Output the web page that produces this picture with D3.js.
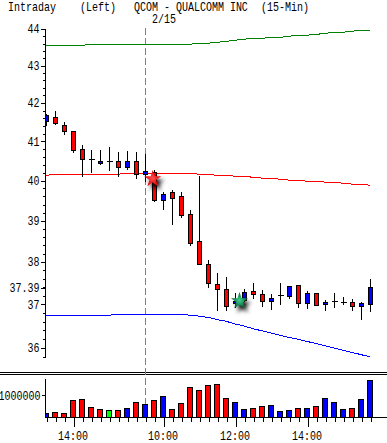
<!DOCTYPE html>
<html>
<head>
<meta charset="utf-8">
<script src="https://cdn.jsdelivr.net/npm/d3@7"></script>
<style>
  html, body { margin: 0; padding: 0; background: #fff; }
  svg { display: block; }
  text { font-family: "Liberation Mono", monospace; font-size: 12px; fill: #000; }
</style>
</head>
<body>
<svg class="chart"></svg>
<script>
var opens = [41.50, 41.63, 41.42, 41.24, 40.80, 40.52, 40.44, 40.48, 40.49, 40.32, 40.49, 40.14,
  40.19, 39.51, 39.69, 39.59, 39.15, 38.50, 37.94, 37.47, 37.36, 37.03, 37.10, 37.31,
  37.24, 37.08, 37.21, 37.19, 37.45, 37.03, 37.26, 37.01, 37.08, 37.05, 37.05, 36.96, 37.01];
var closes = [41.66, 41.45, 41.24, 40.75, 40.54, 40.52, 40.49, 40.48, 40.32, 40.49, 40.14, 40.22,
  39.51, 39.66, 39.56, 39.13, 38.45, 37.94, 37.50, 37.36, 36.96, 37.08, 37.29, 37.24,
  37.08, 37.14, 37.21, 37.43, 37.03, 37.26, 36.98, 37.05, 37.08, 37.05, 36.96, 37.03, 37.40];
var highs = [41.71, 41.79, 41.50, 41.26, 40.90, 40.77, 40.77, 40.85, 40.72, 40.75, 40.72, 40.67,
  40.27, 39.71, 39.76, 39.71, 39.26, 40.11, 38.06, 37.75, 37.64, 37.26, 37.36, 37.50,
  37.33, 37.24, 37.50, 37.43, 37.45, 37.31, 37.26, 37.10, 37.26, 37.17, 37.12, 37.05, 37.60];
var lows = [41.39, 41.41, 41.16, 40.70, 40.09, 40.19, 40.39, 40.24, 40.09, 40.27, 40.04, 39.96,
  39.46, 39.26, 38.89, 39.08, 38.38, 37.92, 37.38, 36.85, 36.85, 36.92, 37.05, 37.12,
  36.94, 36.87, 36.98, 37.12, 36.92, 36.89, 36.96, 36.85, 36.92, 36.98, 36.85, 36.64, 36.82];

var upperBand = [43.55, 43.55, 43.55, 43.55, 43.55, 43.58, 43.58, 43.58, 43.58, 43.58, 43.58, 43.58,
  43.58, 43.58, 43.58, 43.58, 43.58, 43.61, 43.61, 43.63, 43.66, 43.69, 43.72, 43.74,
  43.74, 43.77, 43.77, 43.80, 43.83, 43.83, 43.85, 43.88, 43.91, 43.91, 43.94, 43.96, 43.96];
var midBand = [40.13, 40.16, 40.16, 40.16, 40.16, 40.16, 40.16, 40.16, 40.16, 40.18, 40.18, 40.18,
  40.18, 40.18, 40.18, 40.18, 40.18, 40.16, 40.16, 40.13, 40.13, 40.11, 40.11, 40.08,
  40.06, 40.06, 40.03, 40.01, 40.01, 39.98, 39.98, 39.96, 39.96, 39.93, 39.91, 39.91, 39.88];
var lowerBand = [36.75, 36.75, 36.75, 36.75, 36.75, 36.75, 36.75, 36.75, 36.77, 36.77, 36.77, 36.77,
  36.77, 36.77, 36.77, 36.77, 36.75, 36.73, 36.70, 36.65, 36.61, 36.55, 36.50, 36.44,
  36.39, 36.34, 36.29, 36.24, 36.20, 36.15, 36.10, 36.05, 36.00, 35.95, 35.90, 35.85, 35.80];

var volumes = [180000, 230000, 180000, 770000, 820000, 450000, 360000, 320000, 320000, 410000, 680000, 590000,
  770000, 950000, 360000, 640000, 1360000, 1230000, 1470000, 1520000, 860000, 680000, 360000, 410000,
  500000, 550000, 270000, 320000, 410000, 410000, 500000, 860000, 680000, 360000, 410000, 820000, 1680000];
var volumeColors = ["b", "r", "r", "r", "r", "r", "r", "g", "r", "b", "r", "b",
  "r", "b", "r", "r", "r", "r", "r", "r", "r", "b", "b", "r",
  "r", "b", "b", "b", "r", "b", "r", "b", "b", "b", "r", "b", "b"];

var priceLabels = [36, 37, 37.39, 38, 39, 40, 41, 42, 43, 44];
var volumeLabels = [1000000];
var timeIndex = [3, 13, 21, 29];
var timeLabels = ["14:00", "10:00", "12:00", "14:00"];
var dateIndex = 11;
var dateLabel = "2/15";
var markerIndex = [11.85, 21.5];
var markerPrice = [40.04, 37.08];
var titleParts = ["Intraday", "(Left)", "QCOM - QUALCOMM INC", "(15-Min)"];

var width = 387, height = 443;
var colors = { r: "#ff0000", b: "#0000ff", g: "#00ff00" };

var svg = d3.select(".chart").attr("width", width).attr("height", height);
var defs = svg.append("defs");

defs.append("clipPath").attr("id", "plotClip").append("rect")
  .attr("x", 45).attr("y", 0).attr("width", width - 45).attr("height", height);

function addGradient(id, inner, outer) {
  var g = defs.append("radialGradient").attr("id", id);
  g.append("stop").attr("offset", "0%").attr("stop-color", inner);
  g.append("stop").attr("offset", "100%").attr("stop-color", outer);
}
addGradient("markRed", "#ff5050", "#d80000");
addGradient("markGreen", "#40d090", "#005c30");

var glow = defs.append("filter").attr("id", "markShadow")
  .attr("x", "-100%").attr("y", "-100%").attr("width", "350%").attr("height", "350%");
glow.append("feGaussianBlur").attr("in", "SourceGraphic").attr("stdDeviation", 0.7).attr("result", "soft");
glow.append("feDropShadow").attr("in", "soft").attr("dx", 3).attr("dy", 4).attr("stdDeviation", 2)
  .attr("flood-color", "#000").attr("flood-opacity", 1);

var indexes = d3.range(opens.length);
var x = d3.scaleLinear().domain([0, 36]).range([46, 370]);
var y = d3.scaleLog().domain([36, 44]).range([348, 29]);
var yVol = d3.scaleLinear().domain([0, 1000000]).range([417, 395.3]);

function xc(i) {
  return Math.round(x(i)) + 0.5;
}

// squeeze the mono font to the 6px cell of the original, about its anchor
function fitText(sel) {
  sel.style("transform-box", "fill-box")
    .style("transform", "scaleX(0.8333)")
    .style("transform-origin", function() {
      var a = getComputedStyle(this).textAnchor;
      return (a === "end" ? "right" : a === "middle" ? "center" : "left") + " center";
    });
}

// title
var titleX = [8, 80, 134, 261];
svg.append("g").selectAll("text").data(titleParts).enter().append("text")
  .attr("x", function(d, i) { return titleX[i]; })
  .attr("y", 11)
  .text(function(d) { return d; })
  .call(fitText);

svg.append("text")
  .attr("x", 152).attr("y", 23)
  .text(dateLabel)
  .call(fitText);

// panel separator
svg.selectAll(".sep").data([372.5, 374.5]).enter().append("line")
  .attr("class", "sep")
  .attr("x1", 0).attr("x2", width)
  .attr("y1", function(d) { return d; }).attr("y2", function(d) { return d; })
  .attr("stroke", "#000").attr("shape-rendering", "crispEdges");

// day marker
svg.append("line")
  .attr("x1", xc(dateIndex)).attr("x2", xc(dateIndex))
  .attr("y1", 28).attr("y2", 417)
  .attr("stroke", "#808080")
  .attr("stroke-dasharray", "7,3")
  .attr("shape-rendering", "crispEdges");

// bands
var bandLine = d3.line()
  .x(function(d, i) { return x(i); })
  .y(function(d) { return y(d); });

[[upperBand, "#008000"], [midBand, "#ff0000"], [lowerBand, "#0000ff"]].forEach(function(b) {
  svg.append("path")
    .attr("d", bandLine(b[0]))
    .attr("fill", "none")
    .attr("stroke", b[1])
    .attr("shape-rendering", "crispEdges");
});

// candles
var plot = svg.append("g").attr("clip-path", "url(#plotClip)");

plot.selectAll(".wick").data(indexes).enter().append("line")
  .attr("class", "wick")
  .attr("x1", xc).attr("x2", xc)
  .attr("y1", function(i) { return y(highs[i]); })
  .attr("y2", function(i) { return y(lows[i]); })
  .attr("stroke", "#000")
  .attr("shape-rendering", "crispEdges");

var flat = indexes.filter(function(i) { return opens[i] === closes[i]; });
var bodies = indexes.filter(function(i) { return opens[i] !== closes[i]; });

plot.selectAll(".doji").data(flat).enter().append("line")
  .attr("class", "doji")
  .attr("x1", function(i) { return xc(i) - 3; })
  .attr("x2", function(i) { return xc(i) + 3; })
  .attr("y1", function(i) { return y(closes[i]); })
  .attr("y2", function(i) { return y(closes[i]); })
  .attr("stroke", "#000")
  .attr("shape-rendering", "crispEdges");

plot.selectAll(".body").data(bodies).enter().append("rect")
  .attr("class", "body")
  .attr("x", function(i) { return xc(i) - 2; })
  .attr("width", 4)
  .attr("y", function(i) { return y(Math.max(opens[i], closes[i])); })
  .attr("height", function(i) { return Math.abs(y(opens[i]) - y(closes[i])); })
  .attr("fill", function(i) { return closes[i] < opens[i] ? colors.r : colors.b; })
  .attr("stroke", "#000")
  .attr("shape-rendering", "crispEdges");

// signal markers
var star = d3.symbol().type(d3.symbolStar).size(90);
markerIndex.forEach(function(m, k) {
  svg.append("path")
    .attr("d", star())
    .attr("transform", "translate(" + x(m) + "," + y(markerPrice[k]) + ")")
    .attr("fill", k === 0 ? "url(#markRed)" : "url(#markGreen)")
    .attr("filter", "url(#markShadow)");
});

// price axis
var minorTicks = d3.range(179, 221).map(function(d) { return d / 5; });

var yMinor = d3.axisLeft(y).tickValues(minorTicks).tickSize(3).tickFormat("");
svg.append("g")
  .attr("transform", "translate(45.5,0)")
  .call(yMinor)
  .attr("shape-rendering", "crispEdges")
  .call(function(g) { g.select(".domain").remove(); });

var yAxis = d3.axisLeft(y).tickValues(priceLabels).tickSize(5).tickPadding(1)
  .tickFormat(function(d) { return String(d); });
var yAxisG = svg.append("g")
  .attr("transform", "translate(45.5,0)")
  .call(yAxis)
  .attr("shape-rendering", "crispEdges");
yAxisG.select(".domain").remove();
yAxisG.selectAll("text").call(fitText);
yAxisG.attr("font-family", null).attr("font-size", null);

svg.append("line")
  .attr("x1", 45.5).attr("x2", 45.5)
  .attr("y1", y(44)).attr("y2", y(35.8))
  .attr("stroke", "#000")
  .attr("shape-rendering", "crispEdges");

// volume bars
var volG = svg.append("g").attr("clip-path", "url(#plotClip)");
volG.selectAll(".bar").data(indexes).enter().append("rect")
  .attr("class", "bar")
  .attr("x", function(i) { return xc(i) - 3; })
  .attr("width", 5)
  .attr("y", function(i) { return yVol(volumes[i]); })
  .attr("height", function(i) { return yVol(0) - yVol(volumes[i]); })
  .attr("fill", function(i) { return colors[volumeColors[i]]; })
  .attr("stroke", "#000")
  .attr("shape-rendering", "crispEdges");

// volume axis
var volAxis = d3.axisLeft(yVol).tickValues(volumeLabels).tickSize(4).tickPadding(1)
  .tickFormat(function(d) { return String(d); });
var volAxisG = svg.append("g")
  .attr("transform", "translate(45.5,0)")
  .call(volAxis)
  .attr("shape-rendering", "crispEdges");
volAxisG.select(".domain").remove();
volAxisG.selectAll("text").call(fitText);
volAxisG.attr("font-family", null).attr("font-size", null);

svg.append("line")
  .attr("x1", 45.5).attr("x2", 45.5)
  .attr("y1", 379).attr("y2", 417)
  .attr("stroke", "#000")
  .attr("shape-rendering", "crispEdges");

// time axis
svg.append("line")
  .attr("x1", 45).attr("x2", width)
  .attr("y1", 417.5).attr("y2", 417.5)
  .attr("stroke", "#000")
  .attr("shape-rendering", "crispEdges");

var xMinor = d3.axisBottom(x).tickValues(indexes).tickSize(4).tickFormat("");
svg.append("g")
  .attr("transform", "translate(0.5,417.5)")
  .call(xMinor)
  .attr("shape-rendering", "crispEdges")
  .call(function(g) { g.select(".domain").remove(); });

var xAxis = d3.axisBottom(x).tickValues(timeIndex).tickSize(9).tickPadding(5)
  .tickFormat(function(d) { return timeLabels[timeIndex.indexOf(d)]; });
var xAxisG = svg.append("g")
  .attr("transform", "translate(0.5,417.5)")
  .call(xAxis)
  .attr("shape-rendering", "crispEdges");
xAxisG.select(".domain").remove();
xAxisG.selectAll("text").attr("dx", -1).call(fitText);
xAxisG.attr("font-family", null).attr("font-size", null);
</script>
</body>
</html>
